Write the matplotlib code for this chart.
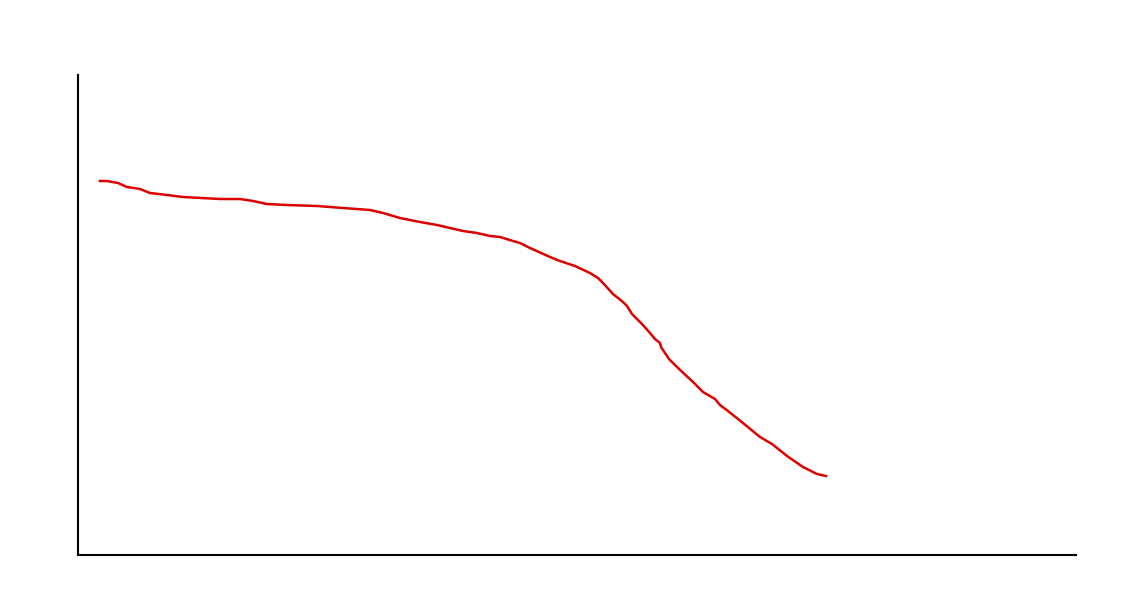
import matplotlib
matplotlib.use("Agg")
import matplotlib.pyplot as plt

# Series values (x: horizontal position units, y: value units)
x_vals = [22, 29, 40, 49, 62, 72, 89, 105, 142, 162, 175, 189, 209, 239, 265, 292, 305,
          322, 342, 359, 372, 385, 399, 412, 422, 435, 442, 452, 472, 482, 497, 512, 520,
          525, 535, 545, 549, 554, 564, 572, 577, 582, 583, 591, 599, 615, 625, 637, 642,
          650, 665, 682, 694, 709, 725, 739, 748]
y_vals = [374, 374, 372, 368, 366, 362, 360, 358, 356, 356, 354, 351, 350, 349, 347, 345, 342,
          337, 333, 330, 327, 324, 322, 319, 318, 314, 312, 307, 298, 294, 289, 282, 277,
          272, 261, 253, 249, 241, 231, 222, 216, 212, 208, 196, 188, 173, 163, 156, 150,
          144, 132, 118, 111, 99, 88, 81, 79]

fig = plt.figure(figsize=(11.27, 6.08), dpi=100)
ax = fig.add_axes([78 / 1127, 53 / 608, 998 / 1127, 480 / 608])
ax.plot(x_vals, y_vals, color="#dd0000", linewidth=1.8)
ax.set_xlim(0, 998)
ax.set_ylim(0, 480)
ax.set_xticks([])
ax.set_yticks([])
for s in ("top", "right"):
    ax.spines[s].set_visible(False)
for s in ("left", "bottom"):
    ax.spines[s].set_linewidth(1.5)
    ax.spines[s].set_color("black")
fig.savefig("out.png", dpi=100)
